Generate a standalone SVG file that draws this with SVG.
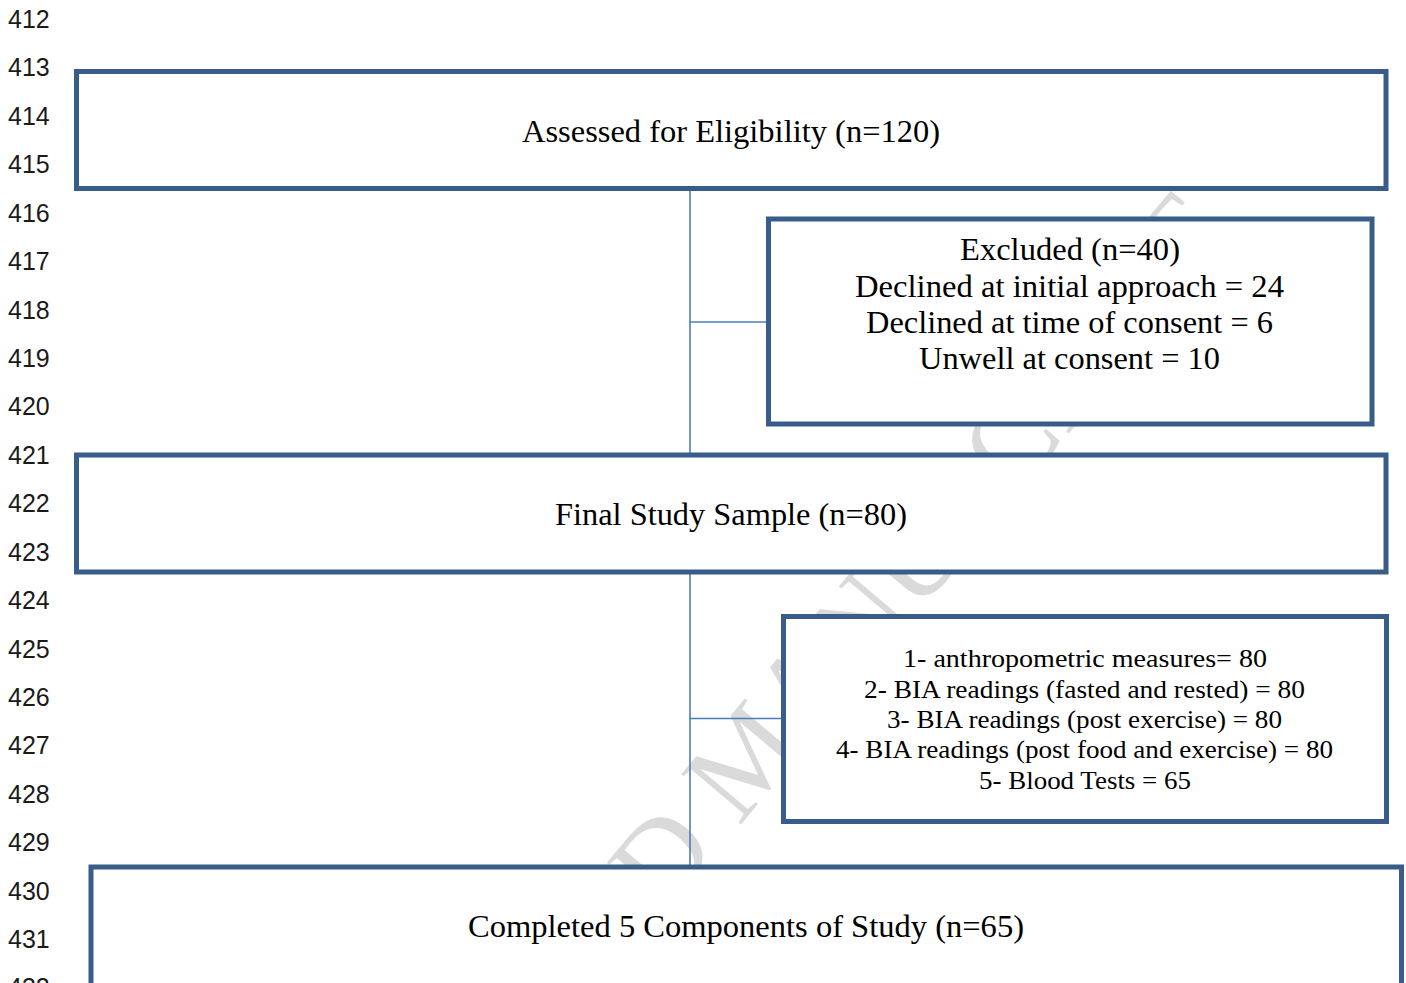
<svg xmlns="http://www.w3.org/2000/svg" width="1406" height="983" viewBox="0 0 1406 983">
<style>
.ln{font-family:"Liberation Sans","DejaVu Sans",sans-serif;font-size:25px;fill:#1a1a1a}
.box{fill:#ffffff;stroke:#385d8a;stroke-width:5}
.t{font-family:"Liberation Serif","DejaVu Serif",serif;font-size:31px;fill:#000;text-anchor:middle}
.s{font-family:"Liberation Serif","DejaVu Serif",serif;font-size:26px;fill:#000;text-anchor:middle}
.wm{font-family:"Liberation Serif","DejaVu Serif",serif;font-size:119px;fill:#dadada;text-anchor:middle}
.c{stroke:#4a7ebb;stroke-width:1.6;fill:none}
</style>
<rect width="1406" height="983" fill="#ffffff"/>
<g id="line-numbers">
<text class="ln" x="8" y="28">412</text>
<text class="ln" x="8" y="76.4">413</text>
<text class="ln" x="8" y="124.8">414</text>
<text class="ln" x="8" y="173.3">415</text>
<text class="ln" x="8" y="221.7">416</text>
<text class="ln" x="8" y="270.1">417</text>
<text class="ln" x="8" y="318.5">418</text>
<text class="ln" x="8" y="366.9">419</text>
<text class="ln" x="8" y="415.4">420</text>
<text class="ln" x="8" y="463.8">421</text>
<text class="ln" x="8" y="512.2">422</text>
<text class="ln" x="8" y="560.6">423</text>
<text class="ln" x="8" y="609">424</text>
<text class="ln" x="8" y="657.5">425</text>
<text class="ln" x="8" y="705.9">426</text>
<text class="ln" x="8" y="754.3">427</text>
<text class="ln" x="8" y="802.7">428</text>
<text class="ln" x="8" y="851.1">429</text>
<text class="ln" x="8" y="899.6">430</text>
<text class="ln" x="8" y="948">431</text>
<text class="ln" x="8" y="996.4">432</text>
</g>
<g id="watermark">
<text class="wm" transform="translate(778,780) rotate(-50)">ACCEPTED MANUSCRIPT</text>
</g>
<g id="connectors">
<line class="c" x1="690" y1="189" x2="690" y2="455"/>
<line class="c" x1="690" y1="322" x2="768" y2="322"/>
<line class="c" x1="690" y1="572" x2="690" y2="866"/>
<line class="c" x1="690" y1="718.5" x2="783" y2="718.5"/>
</g>
<g id="assessed">
<rect class="box" x="76.5" y="71.5" width="1309.5" height="117"/>
<text class="t" x="731" y="142" textLength="418" lengthAdjust="spacingAndGlyphs">Assessed for Eligibility (n=120)</text>
</g>
<g id="excluded">
<rect class="box" x="768.5" y="219" width="603.5" height="205"/>
<text class="t" x="1070" y="260" textLength="220" lengthAdjust="spacingAndGlyphs">Excluded (n=40)</text>
<text class="t" x="1069.5" y="297" textLength="429" lengthAdjust="spacingAndGlyphs">Declined at initial approach = 24</text>
<text class="t" x="1069.5" y="333" textLength="407" lengthAdjust="spacingAndGlyphs">Declined at time of consent = 6</text>
<text class="t" x="1069.5" y="369" textLength="301" lengthAdjust="spacingAndGlyphs">Unwell at consent = 10</text>
</g>
<g id="final-sample">
<rect class="box" x="76.5" y="455" width="1309.5" height="117"/>
<text class="t" x="731" y="525" textLength="352" lengthAdjust="spacingAndGlyphs">Final Study Sample (n=80)</text>
</g>
<g id="components">
<rect class="box" x="783.5" y="616.5" width="603" height="205"/>
<text class="s" x="1085" y="667" textLength="364" lengthAdjust="spacingAndGlyphs">1- anthropometric measures= 80</text>
<text class="s" x="1084.5" y="698" textLength="441" lengthAdjust="spacingAndGlyphs">2- BIA readings (fasted and rested) = 80</text>
<text class="s" x="1084.5" y="728" textLength="395" lengthAdjust="spacingAndGlyphs">3- BIA readings (post exercise) = 80</text>
<text class="s" x="1084.5" y="758" textLength="497" lengthAdjust="spacingAndGlyphs">4- BIA readings (post food and exercise) = 80</text>
<text class="s" x="1085" y="789" textLength="212" lengthAdjust="spacingAndGlyphs">5- Blood Tests = 65</text>
</g>
<g id="completed">
<rect class="box" x="91" y="867" width="1310.5" height="140"/>
<text class="t" x="746" y="937" textLength="556" lengthAdjust="spacingAndGlyphs">Completed 5 Components of Study (n=65)</text>
</g>
</svg>
